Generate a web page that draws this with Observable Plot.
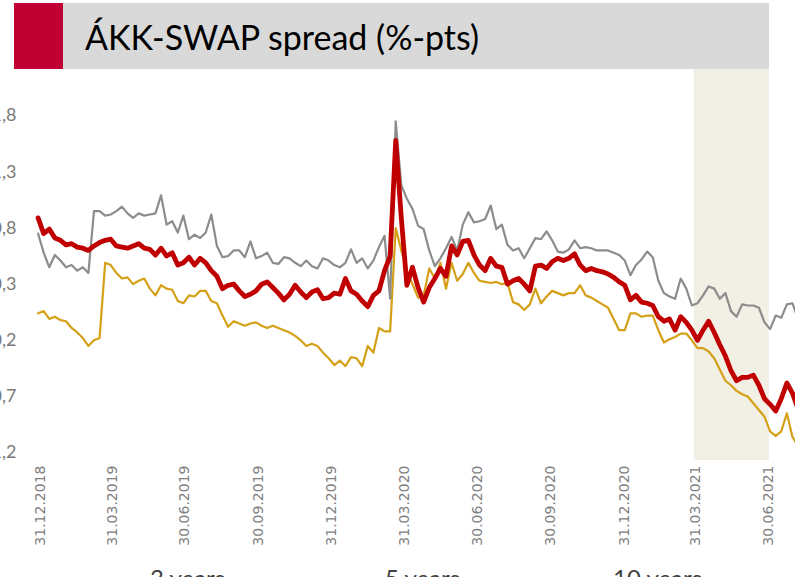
<!DOCTYPE html>
<html><head><meta charset="utf-8">
<script src="https://cdn.jsdelivr.net/npm/d3@7"></script>
<script src="https://cdn.jsdelivr.net/npm/@observablehq/plot@0.6"></script>
<style>
html,body{margin:0;padding:0;background:#fff;overflow:hidden;width:795px;height:577px;}
#wrap{position:relative;width:795px;height:577px;overflow:hidden;background:#fff;}
#chart{position:absolute;left:0;top:0;}
#chart svg{max-width:none;display:block;}
#title{position:absolute;left:14px;top:3px;width:755px;height:66px;background:#d9d9d9;}
#title .sq{position:absolute;left:0;top:0;width:49px;height:66px;background:#c00033;}
#title .tx{position:absolute;left:71px;top:14px;font-family:Lato,sans-serif;font-size:34px;line-height:40px;color:#000;white-space:nowrap;}
#legend{position:absolute;left:0;top:0;width:795px;height:577px;pointer-events:none;font-family:Lato,sans-serif;font-size:24px;color:#404040;}
#legend .it{position:absolute;top:566px;white-space:nowrap;line-height:24px;}
#legend .ln{position:absolute;width:36px;height:3px;top:11px;left:-44px;}
</style></head>
<body><div id="wrap"><div id="chart"></div>
<div id="title"><div class="sq"></div><div class="tx"></div></div>
<div id="legend"></div></div>
<script>
const titleText = "ÁKK-SWAP spread (%-pts)";
const seriesNames = ["3 years", "5 years", "10 years"];
const seriesColors = ["#d4a017", "#8c8c8c", "#c00000"];
const tickDates = ["2018-12-31","2019-03-31","2019-06-30","2019-09-30","2019-12-31","2020-03-31","2020-06-30","2020-09-30","2020-12-31","2021-03-31","2021-06-30"];
const yTicks = [1.8, 1.3, 0.8, 0.3, -0.2, -0.7, -1.2];
const shadeStart = ["2021-03-29"];
const shadeEnd = ["2021-07-01"];
const dates = ["2018-12-28",
"2019-01-04","2019-01-11","2019-01-18","2019-01-25","2019-02-01","2019-02-08","2019-02-15","2019-02-22","2019-03-01","2019-03-08","2019-03-15","2019-03-22","2019-03-29",
"2019-04-05","2019-04-12","2019-04-19","2019-04-26","2019-05-03","2019-05-10","2019-05-17","2019-05-24","2019-05-31","2019-06-07","2019-06-14","2019-06-21","2019-06-28",
"2019-07-05","2019-07-12","2019-07-19","2019-07-26","2019-08-02","2019-08-09","2019-08-16","2019-08-23","2019-08-30","2019-09-06","2019-09-13","2019-09-20","2019-09-27",
"2019-10-04","2019-10-11","2019-10-18","2019-10-25","2019-11-01","2019-11-08","2019-11-15","2019-11-22","2019-11-29","2019-12-06","2019-12-13","2019-12-20","2019-12-27",
"2020-01-03","2020-01-10","2020-01-17","2020-01-24","2020-01-31","2020-02-07","2020-02-14","2020-02-21","2020-02-28","2020-03-06","2020-03-13","2020-03-20","2020-03-27",
"2020-04-03","2020-04-10","2020-04-17","2020-04-24","2020-05-01","2020-05-08","2020-05-15","2020-05-22","2020-05-29","2020-06-05","2020-06-12","2020-06-19","2020-06-26",
"2020-07-03","2020-07-10","2020-07-17","2020-07-24","2020-07-31","2020-08-07","2020-08-14","2020-08-21","2020-08-28","2020-09-04","2020-09-11","2020-09-18","2020-09-25",
"2020-10-02","2020-10-09","2020-10-16","2020-10-23","2020-10-30","2020-11-06","2020-11-13","2020-11-20","2020-11-27","2020-12-04","2020-12-11","2020-12-18","2020-12-25",
"2021-01-01","2021-01-08","2021-01-15","2021-01-22","2021-01-29","2021-02-05","2021-02-12","2021-02-19","2021-02-26","2021-03-05","2021-03-12","2021-03-19","2021-03-26",
"2021-04-02","2021-04-09","2021-04-16","2021-04-23","2021-04-30","2021-05-07","2021-05-14","2021-05-21","2021-05-28","2021-06-04","2021-06-11","2021-06-18","2021-06-25",
"2021-07-02","2021-07-09","2021-07-16","2021-07-23","2021-07-30","2021-08-06"];
const y3 = [0.04,
0.06,-0.01,0.01,-0.02,-0.03,-0.09,-0.13,-0.18,-0.25,-0.20,-0.18,0.49,0.47,
0.40,0.35,0.36,0.30,0.33,0.35,0.26,0.20,0.29,0.26,0.25,0.15,0.13,
0.20,0.19,0.24,0.24,0.15,0.13,0.02,-0.08,-0.03,-0.05,-0.07,-0.05,-0.04,
-0.07,-0.09,-0.07,-0.09,-0.11,-0.13,-0.16,-0.20,-0.25,-0.23,-0.25,-0.31,-0.36,
-0.42,-0.38,-0.43,-0.35,-0.36,-0.43,-0.25,-0.31,-0.09,-0.12,-0.12,0.80,0.60,
0.42,0.30,0.18,0.20,0.44,0.35,0.49,0.26,0.49,0.33,0.39,0.49,0.40,
0.33,0.32,0.31,0.32,0.30,0.31,0.14,0.12,0.07,0.12,0.26,0.13,0.19,
0.24,0.22,0.20,0.22,0.22,0.29,0.20,0.18,0.15,0.12,0.09,-0.01,-0.11,
-0.11,0.04,0.04,0.01,0.02,0.02,-0.11,-0.22,-0.19,-0.17,-0.14,-0.14,-0.20,
-0.27,-0.27,-0.30,-0.36,-0.46,-0.56,-0.60,-0.65,-0.68,-0.70,-0.76,-0.82,-0.88,
-1.01,-1.05,-1.01,-0.85,-1.06,-1.14];
const y5 = [0.75,
0.58,0.45,0.56,0.51,0.45,0.47,0.42,0.45,0.40,0.95,0.95,0.91,0.92,
0.95,0.99,0.93,0.89,0.93,0.91,0.92,0.93,1.09,0.83,0.86,0.76,0.91,
0.70,0.74,0.71,0.76,0.92,0.64,0.54,0.55,0.60,0.60,0.54,0.68,0.53,
0.55,0.58,0.49,0.48,0.54,0.53,0.49,0.46,0.51,0.46,0.44,0.53,0.51,
0.47,0.45,0.49,0.61,0.49,0.53,0.44,0.51,0.63,0.73,0.17,1.75,1.18,
1.06,0.97,0.82,0.79,0.60,0.46,0.53,0.62,0.72,0.60,0.83,0.94,0.85,
0.86,0.88,1.00,0.79,0.83,0.65,0.60,0.62,0.53,0.62,0.71,0.70,0.77,
0.69,0.59,0.58,0.61,0.69,0.62,0.63,0.62,0.60,0.60,0.60,0.58,0.56,
0.51,0.38,0.47,0.52,0.59,0.54,0.33,0.22,0.19,0.17,0.35,0.26,0.11,
0.13,0.20,0.28,0.26,0.17,0.22,0.06,0.01,0.12,0.11,0.11,0.09,-0.04,
-0.10,0.02,0.00,0.12,0.13,-0.01];
const y10 = [0.89,
0.75,0.79,0.71,0.69,0.65,0.66,0.63,0.62,0.60,0.64,0.67,0.69,0.70,
0.64,0.63,0.62,0.64,0.66,0.62,0.61,0.56,0.62,0.55,0.58,0.47,0.49,
0.54,0.47,0.53,0.49,0.42,0.37,0.26,0.29,0.30,0.24,0.19,0.21,0.24,
0.30,0.32,0.27,0.22,0.16,0.21,0.29,0.23,0.18,0.23,0.25,0.17,0.18,
0.22,0.21,0.35,0.24,0.21,0.15,0.10,0.20,0.24,0.42,0.55,1.58,0.89,
0.29,0.45,0.27,0.14,0.27,0.35,0.44,0.37,0.64,0.56,0.68,0.69,0.56,
0.47,0.42,0.53,0.46,0.45,0.30,0.33,0.35,0.30,0.24,0.46,0.47,0.44,
0.50,0.53,0.51,0.53,0.57,0.47,0.42,0.44,0.42,0.41,0.39,0.36,0.32,
0.29,0.16,0.20,0.14,0.13,0.11,0.01,-0.03,-0.01,-0.11,0.01,-0.04,-0.11,
-0.20,-0.11,-0.03,-0.13,-0.24,-0.34,-0.47,-0.56,-0.53,-0.53,-0.51,-0.60,-0.72,
-0.77,-0.83,-0.72,-0.58,-0.67,-0.81];

const parse = d3.utcParse("%Y-%m-%d");
const seriesValues = [y3, y5, y10];
const rows = [];
seriesValues.forEach((vals, s) => vals.forEach((v, i) => rows.push({date: parse(dates[i]), v, s: seriesNames[s]})));
const shade = shadeStart.map((d, i) => ({x1: parse(d), x2: parse(shadeEnd[i])}));
const fmtDate = d3.utcFormat("%d.%m.%Y");

const W = 795, H = 560;
const chart = Plot.plot({
  width: W, height: H,
  marginTop: 59, marginBottom: 100, marginLeft: 30, marginRight: 0,
  style: {background: "transparent", overflow: "hidden"},
  x: {type: "utc", domain: [parse(tickDates[0]), parse(tickDates[tickDates.length - 1])], range: [40, 768]},
  y: {domain: [-1.27, 2.3]},
  marks: [
    Plot.rect(shade, {x1: "x1", x2: "x2", fill: "#f2efe5"}),
    ...seriesNames.map((name, s) => Plot.line(rows.filter(r => r.s === name), {
      x: "date", y: "v", stroke: seriesColors[s],
      strokeWidth: s === 2 ? 4.8 : 2.2, strokeLinejoin: "round", strokeLinecap: "round"
    })),
    Plot.axisX({ticks: tickDates.map(parse), tickFormat: fmtDate, tickRotate: -90, tickSize: 0, tickPadding: 5,
      fontFamily: "DejaVu Sans", fontSize: 14, fill: "#808080", label: null}),
    Plot.axisY({ticks: yTicks, tickFormat: d => d.toFixed(1).replace(".", ","), tickSize: 0, tickPadding: 14,
      fontFamily: "Lato", fontSize: 18, fill: "#7a7a7a", label: null})
  ]
});
document.getElementById("chart").appendChild(chart);
document.querySelector("#title .tx").textContent = titleText;

const legendX = [150, 385, 613];
const lg = document.getElementById("legend");
seriesNames.forEach((name, s) => {
  const it = document.createElement("div");
  it.className = "it";
  it.style.left = legendX[s] + "px";
  const ln = document.createElement("div");
  ln.className = "ln";
  ln.style.background = seriesColors[s];
  it.appendChild(ln);
  it.appendChild(document.createTextNode(name));
  lg.appendChild(it);
});
</script></body></html>
